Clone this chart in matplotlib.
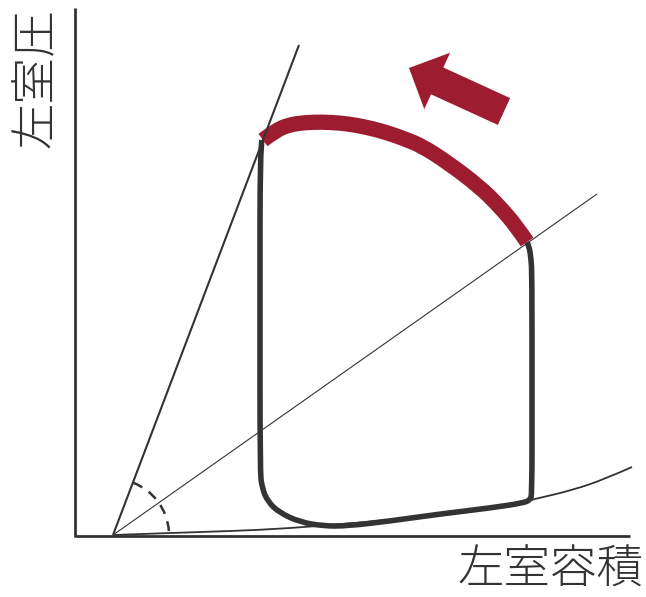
import matplotlib
matplotlib.use("Agg")
import matplotlib.pyplot as plt
from matplotlib.patches import Arc, FancyArrow, PathPatch
from matplotlib.path import Path
import numpy as np

plt.rcParams['font.family'] = ['Noto Sans CJK JP', 'DejaVu Sans']

# ---- data (chart units: volume, pressure; origin at the axes corner) ----
x_label = "左室容積"
y_label = "左室圧"

v0 = 38.0          # volume intercept of the ESPVR / Ea lines
p0 = 1.0

# end-systolic pressure-volume relation (steep line)
espvr_v = [38, 224]
espvr_p = [1, 491]

# shallow line through the end-systolic corner
ea_v = [38, 522]
ea_p = [1, 342]

# end-diastolic pressure-volume relation
edpvr_v = [38, 125, 185, 245, 325, 385, 430, 460, 498, 530, 557]
edpvr_p = [1, 4, 6, 10, 17, 24, 30, 37, 46, 57, 69]

# loop (black part): from end of ejection, down the right side, along bottom, up left side
loop_v = [452, 454, 456, 457, 457, 457, 455, 448, 415, 365, 315, 272, 248,
          225, 205, 193, 187, 185, 185, 185, 187]
loop_p = [294, 290, 278, 261, 136, 41, 36, 33, 28, 22, 15, 10, 10,
          14, 23, 34, 48, 66, 236, 386, 396]

# ejection arc (red)
eject_v = [188, 200, 213, 230, 247, 265, 280, 297, 313, 330, 347, 372, 405,
           425, 442, 452]
eject_p = [396, 405, 411, 413.5, 414, 413, 411, 407.5, 403, 397, 390, 374, 349,
           329, 309, 294]

# angle marker
angle_radius = 56
angle_from = 4
angle_to = 69

# direction arrow (tail centre -> tip)
arrow_tail = (429, 424.5)
arrow_tip = (334, 468)

dark = "#333333"
red = "#9d1c2f"


def smooth_path(xs, ys):
    """Quadratic B-spline style path through the listed points (drawn by matplotlib)."""
    pts = np.column_stack([xs, ys]).astype(float)
    verts = [pts[0]]
    codes = [Path.MOVETO]
    n = len(pts)
    if n == 2:
        verts.append(pts[1])
        codes.append(Path.LINETO)
        return Path(verts, codes)
    for i in range(1, n - 1):
        end = pts[n - 1] if i == n - 2 else (pts[i] + pts[i + 1]) / 2
        verts += [pts[i], end]
        codes += [Path.CURVE3, Path.CURVE3]
    return Path(verts, codes)


def draw_curve(ax, xs, ys, **kw):
    ax.add_patch(PathPatch(smooth_path(xs, ys), fill=False, **kw))


fig = plt.figure(figsize=(6.46, 5.97), dpi=100)
ax = fig.add_axes([0, 0, 1, 1])
ax.set_xlim(-75, 571)
ax.set_ylim(-61, 536)
ax.axis('off')

# axes
ax.plot([0, 0], [-1, 528], color=dark, lw=2.0, solid_capstyle='butt')
ax.plot([0, 555], [0, 0], color=dark, lw=2.0, solid_capstyle='butt')

# lines
ax.plot(espvr_v, espvr_p, color=dark, lw=1.5, solid_capstyle='butt')
ax.plot(ea_v, ea_p, color=dark, lw=0.8, solid_capstyle='butt')
draw_curve(ax, edpvr_v, edpvr_p, edgecolor=dark, lw=1.3, capstyle='butt')

# loop
draw_curve(ax, loop_v, loop_p, edgecolor=dark, lw=4.0, capstyle='butt',
           joinstyle='round')
draw_curve(ax, eject_v, eject_p, edgecolor=red, lw=11, capstyle='butt',
           joinstyle='round')

# angle arc
arc = Arc((v0, p0), 2 * angle_radius, 2 * angle_radius, theta1=angle_from,
          theta2=angle_to, color=dark, lw=1.8, linestyle=(0, (4, 3.1)))
ax.add_patch(arc)

# arrow
ax.add_patch(FancyArrow(arrow_tail[0], arrow_tail[1],
                        arrow_tip[0] - arrow_tail[0], arrow_tip[1] - arrow_tail[1],
                        width=29.5, head_width=62, head_length=31,
                        length_includes_head=True, color=red, lw=0))

# labels
ax.text(475, -34, x_label, fontsize=33.5, color=dark, ha='center', va='center',
        fontweight='light')
ax.text(-39, 458, y_label, fontsize=33.5, color=dark, ha='center', va='center',
        rotation=90, fontweight='light')

fig.savefig("out.png", dpi=100)
